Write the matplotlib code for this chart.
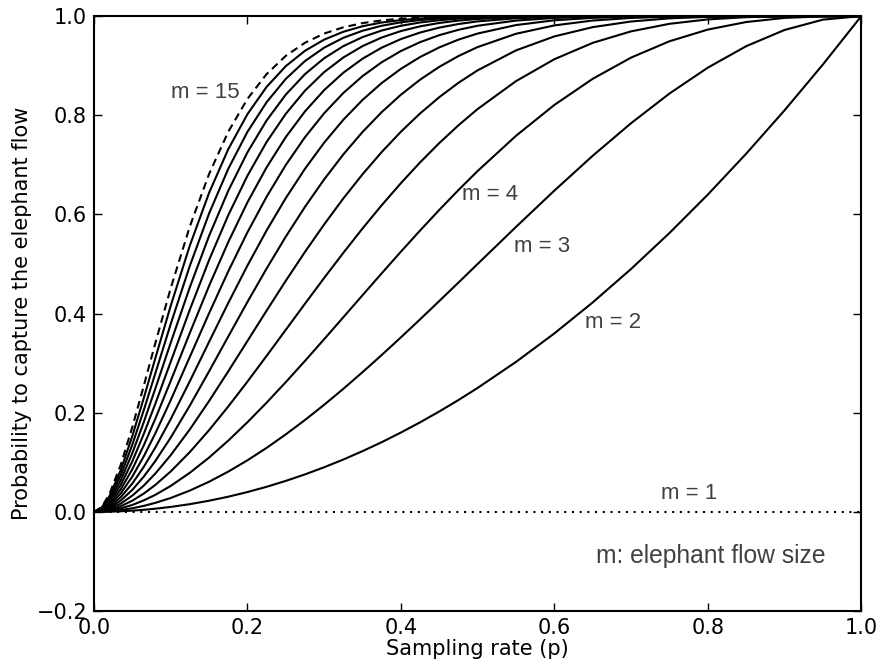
import matplotlib
matplotlib.use("Agg")
import matplotlib.pyplot as plt

# sampling rate grid (x values)
p = [0, 0.01, 0.02, 0.035, 0.05, 0.065, 0.08, 0.1, 0.125, 0.15, 0.175, 0.2, 0.225, 0.25,
     0.275, 0.3, 0.325, 0.35, 0.375, 0.4, 0.425, 0.45, 0.475, 0.5, 0.55, 0.6, 0.65, 0.7,
     0.75, 0.8, 0.85, 0.9, 0.95, 1.0]

# probability to capture the elephant flow, one list per flow size m
m1 = [0.0] * 34
m2 = [0, 0.0001, 0.0004, 0.0012, 0.0025, 0.0042, 0.0064, 0.01, 0.0156, 0.0225, 0.0306, 0.04,
      0.0506, 0.0625, 0.0756, 0.09, 0.1056, 0.1225, 0.1406, 0.16, 0.1806, 0.2025, 0.2256, 0.25,
      0.3025, 0.36, 0.4225, 0.49, 0.5625, 0.64, 0.7225, 0.81, 0.9025, 1.0]
m3 = [0, 0.0003, 0.0012, 0.0036, 0.0073, 0.0121, 0.0182, 0.028, 0.043, 0.0608, 0.0812, 0.104,
      0.1291, 0.1563, 0.1853, 0.216, 0.2482, 0.2818, 0.3164, 0.352, 0.3883, 0.4253, 0.4625, 0.5,
      0.5748, 0.648, 0.7183, 0.784, 0.8438, 0.896, 0.9393, 0.972, 0.9928, 1.0]
m4 = [0, 0.0006, 0.0023, 0.007, 0.014, 0.0232, 0.0344, 0.0523, 0.0789, 0.1095, 0.1437, 0.1808,
      0.2203, 0.2617, 0.3045, 0.3483, 0.3926, 0.437, 0.4812, 0.5248, 0.5675, 0.609, 0.6491, 0.6875,
      0.7585, 0.8208, 0.8735, 0.9163, 0.9492, 0.9728, 0.988, 0.9963, 0.9995, 1.0]
m5 = [0, 0.001, 0.0038, 0.0114, 0.0226, 0.037, 0.0544, 0.0815, 0.1207, 0.1648, 0.2125, 0.2627,
      0.3146, 0.3672, 0.4198, 0.4718, 0.5225, 0.5716, 0.6185, 0.663, 0.7049, 0.7438, 0.7797, 0.8125,
      0.8688, 0.913, 0.946, 0.9692, 0.9844, 0.9933, 0.9978, 0.9995, 1.0, 1.0]
m6 = [0, 0.0015, 0.0057, 0.0167, 0.0328, 0.0532, 0.0773, 0.1143, 0.1665, 0.2235, 0.2834, 0.3446,
      0.4059, 0.4661, 0.5243, 0.5798, 0.6322, 0.6809, 0.7258, 0.7667, 0.8036, 0.8364, 0.8654, 0.8906,
      0.9308, 0.959, 0.9777, 0.9891, 0.9954, 0.9984, 0.9996, 1.0, 1.0, 1.0]
m7 = [0, 0.002, 0.0079, 0.0229, 0.0444, 0.0713, 0.1026, 0.1497, 0.2146, 0.2834, 0.3536, 0.4233,
      0.4908, 0.5551, 0.6152, 0.6706, 0.721, 0.7662, 0.8063, 0.8414, 0.8717, 0.8976, 0.9194, 0.9375,
      0.9643, 0.9812, 0.991, 0.9962, 0.9987, 0.9996, 0.9999, 1.0, 1.0, 1.0]
m8 = [0, 0.0027, 0.0103, 0.0298, 0.0572, 0.091, 0.1298, 0.1869, 0.2637, 0.3428, 0.4212, 0.4967,
      0.5676, 0.6329, 0.692, 0.7447, 0.7909, 0.8309, 0.865, 0.8936, 0.9174, 0.9368, 0.9525, 0.9648,
      0.9819, 0.9915, 0.9964, 0.9987, 0.9996, 0.9999, 1.0, 1.0, 1.0, 1.0]
m9 = [0, 0.0034, 0.0131, 0.0374, 0.0712, 0.1122, 0.1583, 0.2252, 0.3128, 0.4005, 0.485, 0.5638,
      0.6356, 0.6997, 0.7557, 0.804, 0.8449, 0.8789, 0.9069, 0.9295, 0.9474, 0.9615, 0.9723, 0.9805,
      0.9909, 0.9962, 0.9986, 0.9996, 0.9999, 1.0, 1.0, 1.0, 1.0, 1.0]
m10 = [0, 0.0043, 0.0162, 0.0457, 0.0861, 0.1344, 0.1879, 0.2639, 0.3611, 0.4557, 0.5441, 0.6242,
       0.6949, 0.756, 0.8077, 0.8507, 0.8858, 0.914, 0.9363, 0.9536, 0.9668, 0.9767, 0.984, 0.9893,
       0.9955, 0.9983, 0.9995, 0.9999, 1.0, 1.0, 1.0, 1.0, 1.0, 1.0]
m11 = [0, 0.0052, 0.0195, 0.0546, 0.1019, 0.1574, 0.2181, 0.3026, 0.4081, 0.5078, 0.5983, 0.6779,
       0.746, 0.8029, 0.8495, 0.887, 0.9165, 0.9394, 0.9568, 0.9698, 0.9793, 0.9861, 0.9909, 0.9941,
       0.9978, 0.9993, 0.9998, 1.0, 1.0, 1.0, 1.0, 1.0, 1.0, 1.0]
m12 = [0, 0.0062, 0.0231, 0.0641, 0.1184, 0.1812, 0.2487, 0.341, 0.4533, 0.5565, 0.6475, 0.7251,
       0.7895, 0.8416, 0.8829, 0.915, 0.9394, 0.9576, 0.9709, 0.9804, 0.9871, 0.9917, 0.9948, 0.9968,
       0.9989, 0.9997, 0.9999, 1.0, 1.0, 1.0, 1.0, 1.0, 1.0, 1.0]
m13 = [0, 0.0073, 0.027, 0.074, 0.1354, 0.2054, 0.2794, 0.3787, 0.4965, 0.6017, 0.6918, 0.7664,
       0.8263, 0.8733, 0.9093, 0.9363, 0.9562, 0.9704, 0.9805, 0.9874, 0.992, 0.9951, 0.9971, 0.9983,
       0.9995, 0.9999, 1.0, 1.0, 1.0, 1.0, 1.0, 1.0, 1.0, 1.0]
m14 = [0, 0.0084, 0.031, 0.0844, 0.153, 0.2299, 0.31, 0.4154, 0.5374, 0.6433, 0.7314, 0.8021,
       0.8572, 0.899, 0.93, 0.9525, 0.9684, 0.9795, 0.987, 0.9919, 0.9951, 0.9971, 0.9984, 0.9991,
       0.9997, 0.9999, 1.0, 1.0, 1.0, 1.0, 1.0, 1.0, 1.0, 1.0]
m15 = [0, 0.0096, 0.0353, 0.0952, 0.171, 0.2546, 0.3403, 0.451, 0.5759, 0.6814, 0.7666, 0.8329,
       0.883, 0.9198, 0.9462, 0.9647, 0.9774, 0.9858, 0.9913, 0.9948, 0.997, 0.9983, 0.9991, 0.9995,
       0.9999, 1.0, 1.0, 1.0, 1.0, 1.0, 1.0, 1.0, 1.0, 1.0]

solid_curves = [m2, m3, m4, m5, m6, m7, m8, m9, m10, m11, m12, m13, m14]

fig = plt.figure(figsize=(8.78, 6.70), dpi=100)
ax = fig.add_axes([0.107, 0.088, 0.874, 0.888])

ax.plot(p, m1, color='black', linestyle=(0, (1, 2.7)), linewidth=1.5)
for ys in solid_curves:
    ax.plot(p, ys, color='black', linewidth=1.5)
ax.plot(p, m15, color='black', linestyle=(0, (3.7, 2.4)), linewidth=1.5)

# curve labels
txt = dict(color='#404040', family='Liberation Sans', fontsize=16, va='center', ha='left')
ax.text(0.100, 0.846, 'm = 15', **txt)
ax.text(0.480, 0.640, 'm = 4', **txt)
ax.text(0.548, 0.535, 'm = 3', **txt)
ax.text(0.640, 0.382, 'm = 2', **txt)
ax.text(0.739, 0.038, 'm = 1', **txt)
ax.text(0.654, -0.089, 'm: elephant flow size', color='#404040', family='Liberation Sans',
        fontsize=17.7, va='center', ha='left')

ax.set_xlim(0, 1)
ax.set_ylim(-0.2, 1.0)
ax.set_xticks([0.0, 0.2, 0.4, 0.6, 0.8, 1.0])
ax.set_yticks([-0.2, 0.0, 0.2, 0.4, 0.6, 0.8, 1.0])
ax.tick_params(direction='in', length=6, width=1, top=True, right=True, labelsize=15, pad=5)
for s in ax.spines.values():
    s.set_linewidth(1.5)

ax.set_xlabel('Sampling rate (p)', fontsize=15, labelpad=1)
ax.set_ylabel('Probability to capture the elephant flow', fontsize=15, labelpad=3)

fig.savefig('out.png', dpi=100)
